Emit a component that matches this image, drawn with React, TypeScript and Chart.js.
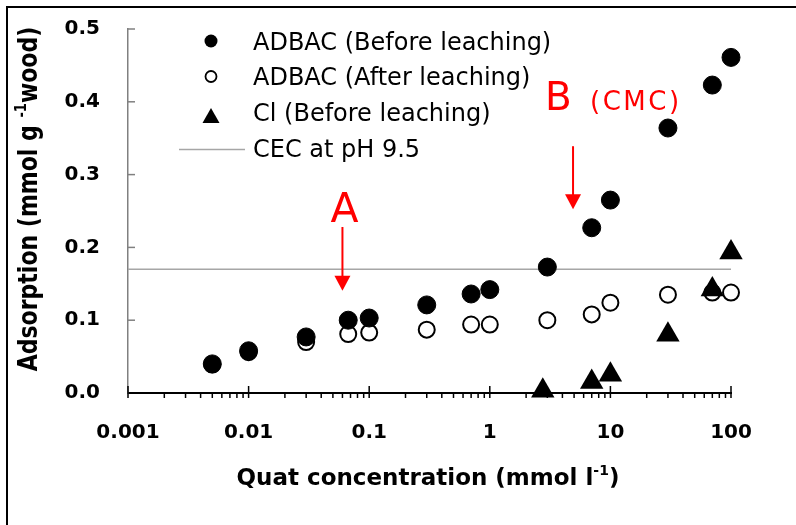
import React, { useEffect, useRef } from 'react';
import { Chart, registerables } from 'chart.js';

Chart.register(...registerables);

// ---------------- Data ----------------
const quatConc = [0.005, 0.01, 0.03, 0.067, 0.1, 0.3, 0.7, 1, 3, 7, 10, 30, 70, 100];
const adbacBefore = [0.04, 0.058, 0.077, 0.1, 0.103, 0.121, 0.136, 0.142, 0.173, 0.227, 0.265, 0.364, 0.423, 0.461];
const adbacAfter = [0.039, 0.056, 0.07, 0.081, 0.083, 0.087, 0.094, 0.094, 0.1, 0.108, 0.124, 0.135, 0.138, 0.138];
const clConc = [2.75, 7, 10, 30, 70, 100];
const clBefore = [0.003, 0.015, 0.025, 0.08, 0.142, 0.193];
const cecValue = 0.17;

const xMin = 0.001;
const xMax = 100;
const xDecades = [0.001, 0.01, 0.1, 1, 10, 100];
const xTickLabels = ['0.001', '0.01', '0.1', '1', '10', '100'];
const minorSteps = [2, 3, 4, 5, 6, 7, 8, 9];
const yMin = 0;
const yMax = 0.5;
const yStep = 0.1;
const yTickValues = [0, 0.1, 0.2, 0.3, 0.4, 0.5];

const legendLabels = ['ADBAC (Before leaching)', 'ADBAC (After leaching)', 'Cl (Before leaching)', 'CEC at pH 9.5'];
const xTitleParts = [{ t: 'Quat concentration (mmol l' }, { t: '-1', sup: true }, { t: ')' }];
const yTitleParts = [{ t: 'Adsorption (mmol g ' }, { t: '-1', sup: true }, { t: 'wood)' }];

// annotations: arrow x position and y range in data units
const annotA = { label: 'A', x: 0.06, yTop: 0.228, yTip: 0.1405 };
const annotB = { label: 'B', note: '(CMC)', x: 4.9, yTop: 0.339, yTip: 0.2523 };

const xTickValues: number[] = [];
xDecades.forEach((d, i) => {
  xTickValues.push(d);
  if (i < xDecades.length - 1) minorSteps.forEach((m) => xTickValues.push(+(d * m).toPrecision(6)));
});

const FONT = '"DejaVu Sans", "Liberation Sans", Arial, sans-serif';
const RED = '#ff0000';

function drawParts(ctx: CanvasRenderingContext2D, parts: any[], x: number, y: number, size: number, center: boolean) {
  const supSize = Math.round(size * 0.6);
  const widths = parts.map((p) => {
    ctx.font = `bold ${p.sup ? supSize : size}px ${FONT}`;
    return ctx.measureText(p.t).width;
  });
  const total = widths.reduce((a, b) => a + b, 0);
  let cx = center ? x - total / 2 : x;
  ctx.textAlign = 'left';
  ctx.textBaseline = 'alphabetic';
  parts.forEach((p, i) => {
    ctx.font = `bold ${p.sup ? supSize : size}px ${FONT}`;
    ctx.fillText(p.t, cx, p.sup ? y - size * 0.42 : y);
    cx += widths[i];
  });
}

function drawArrow(ctx: CanvasRenderingContext2D, x: number, y1: number, y2: number) {
  ctx.strokeStyle = RED;
  ctx.fillStyle = RED;
  ctx.lineWidth = 2;
  ctx.beginPath();
  ctx.moveTo(x, y1);
  ctx.lineTo(x, y2 - 13);
  ctx.stroke();
  ctx.beginPath();
  ctx.moveTo(x - 8, y2 - 15);
  ctx.lineTo(x + 8, y2 - 15);
  ctx.lineTo(x, y2);
  ctx.closePath();
  ctx.fill();
}

const decorPlugin = {
  id: 'decor',
  beforeDraw(chart: any) {
    const ctx = chart.ctx as CanvasRenderingContext2D;
    ctx.save();
    ctx.fillStyle = '#ffffff';
    ctx.fillRect(0, 0, chart.width, chart.height);
    ctx.strokeStyle = '#000';
    ctx.lineWidth = 2;
    ctx.strokeRect(7, 7, chart.width + 40, chart.height + 40);
    ctx.restore();
  },
  beforeDatasetsDraw(chart: any) {
    const ctx = chart.ctx as CanvasRenderingContext2D;
    const { x, y } = chart.scales;
    const area = chart.chartArea;
    ctx.save();
    ctx.strokeStyle = '#000';
    ctx.lineWidth = 1.5;
    xTickValues.forEach((v) => {
      const px = x.getPixelForValue(v);
      const major = xDecades.some((d) => Math.abs(d - v) / d < 1e-6);
      ctx.beginPath();
      ctx.moveTo(px, major ? area.bottom - 7 : area.bottom);
      ctx.lineTo(px, area.bottom + 5);
      ctx.stroke();
    });
    ctx.strokeStyle = '#808080';
    yTickValues.forEach((v) => {
      if (v === 0) return;
      const py = y.getPixelForValue(v);
      ctx.beginPath();
      ctx.moveTo(area.left, py);
      ctx.lineTo(area.left + 7, py);
      ctx.stroke();
    });
    ctx.restore();
  },
  afterDraw(chart: any) {
    const ctx = chart.ctx as CanvasRenderingContext2D;
    const { x, y } = chart.scales;
    const area = chart.chartArea;
    ctx.save();

    // ----- legend -----
    const mx = 211;
    const tx = 253;
    const base = [49.5, 85, 120.8, 156.5];
    ctx.fillStyle = '#000';
    ctx.strokeStyle = '#000';
    ctx.beginPath();
    ctx.arc(mx, 41, 6.5, 0, Math.PI * 2);
    ctx.fill();
    ctx.lineWidth = 1.8;
    ctx.beginPath();
    ctx.arc(mx, 76.5, 5.5, 0, Math.PI * 2);
    ctx.stroke();
    ctx.beginPath();
    ctx.moveTo(mx, 108);
    ctx.lineTo(mx + 8.5, 123);
    ctx.lineTo(mx - 8.5, 123);
    ctx.closePath();
    ctx.fill();
    ctx.strokeStyle = '#a6a6a6';
    ctx.lineWidth = 1.5;
    ctx.beginPath();
    ctx.moveTo(179, 149.5);
    ctx.lineTo(245, 149.5);
    ctx.stroke();
    ctx.fillStyle = '#000';
    ctx.font = `24px ${FONT}`;
    ctx.textAlign = 'left';
    ctx.textBaseline = 'alphabetic';
    legendLabels.forEach((l, i) => ctx.fillText(l, tx, base[i]));

    // ----- axis titles -----
    ctx.fillStyle = '#000';
    drawParts(ctx, xTitleParts, (area.left + area.right) / 2 - 1.5, area.bottom + 92, 23, true);
    ctx.save();
    ctx.translate(37, 199);
    ctx.rotate(-Math.PI / 2);
    ctx.scale(1, 1.2);
    drawParts(ctx, yTitleParts, 0, 0, 22, true);
    ctx.restore();

    // ----- annotations -----
    const ax = x.getPixelForValue(annotA.x);
    const aTop = y.getPixelForValue(annotA.yTop);
    drawArrow(ctx, ax, aTop, y.getPixelForValue(annotA.yTip));
    ctx.fillStyle = RED;
    ctx.font = `41px ${FONT}`;
    ctx.textAlign = 'center';
    ctx.textBaseline = 'alphabetic';
    ctx.fillText(annotA.label, ax + 2, aTop - 5.5);

    const bx = x.getPixelForValue(annotB.x);
    const bTop = y.getPixelForValue(annotB.yTop);
    drawArrow(ctx, bx, bTop, y.getPixelForValue(annotB.yTip));
    ctx.fillStyle = RED;
    ctx.font = `39px ${FONT}`;
    ctx.textAlign = 'left';
    ctx.fillText(annotB.label, bx - 28, bTop - 36);
    ctx.font = `26px ${FONT}`;
    (ctx as any).letterSpacing = '2.5px';
    ctx.fillText(annotB.note, bx + 17, bTop - 36);
    (ctx as any).letterSpacing = '0px';

    ctx.restore();
  },
};

export default function App() {
  const ref = useRef<HTMLCanvasElement | null>(null);

  useEffect(() => {
    if (!ref.current) return;
    const chart = new Chart(ref.current, {
      type: 'scatter',
      data: {
        datasets: [
          {
            label: legendLabels[2],
            data: clConc.map((c, i) => ({ x: c, y: clBefore[i] })),
            pointStyle: 'triangle',
            pointRadius: 13.5,
            backgroundColor: '#000',
            borderColor: '#000',
            borderWidth: 0,
            clip: false,
            order: 0,
          } as any,
          {
            label: legendLabels[0],
            data: quatConc.map((c, i) => ({ x: c, y: adbacBefore[i] })),
            pointStyle: 'circle',
            pointRadius: 9,
            backgroundColor: '#000',
            borderColor: '#000',
            borderWidth: 1,
            clip: false,
            order: 1,
          } as any,
          {
            label: legendLabels[1],
            data: quatConc.map((c, i) => ({ x: c, y: adbacAfter[i] })),
            pointStyle: 'circle',
            pointRadius: 8,
            backgroundColor: '#fff',
            borderColor: '#000',
            borderWidth: 2,
            clip: false,
            order: 2,
          } as any,
          {
            type: 'line',
            label: legendLabels[3],
            data: [
              { x: xMin, y: cecValue },
              { x: xMax, y: cecValue },
            ],
            borderColor: '#a6a6a6',
            borderWidth: 1.5,
            pointRadius: 0,
            fill: false,
            clip: false,
            order: 3,
          } as any,
        ],
      },
      options: {
        responsive: false,
        animation: false,
        events: [],
        layout: { padding: { top: 29, right: 65, left: 0, bottom: 0 } },
        plugins: {
          legend: { display: false },
          tooltip: { enabled: false },
          title: { display: false },
        },
        scales: {
          x: {
            type: 'logarithmic',
            min: xMin,
            max: xMax,
            afterBuildTicks: (scale: any) => {
              scale.ticks = xTickValues.map((v) => ({ value: v }));
            },
            afterFit: (scale: any) => {
              scale.height = 132;
              scale.paddingLeft = 0;
              scale.paddingRight = 0;
            },
            grid: { display: false, drawTicks: false },
            border: { display: true, color: '#000', width: 2 },
            ticks: {
              autoSkip: false,
              maxRotation: 0,
              minRotation: 0,
              padding: 28,
              color: '#000',
              font: { family: FONT, size: 20, weight: 'bold' },
              callback: (value: any) => {
                const i = xDecades.findIndex((d) => Math.abs(d - Number(value)) / d < 1e-6);
                return i >= 0 ? xTickLabels[i] : '';
              },
            },
            title: { display: false },
          } as any,
          y: {
            type: 'linear',
            min: yMin,
            max: yMax,
            afterFit: (scale: any) => {
              scale.width = 128;
              scale.paddingTop = 0;
              scale.paddingBottom = 0;
            },
            grid: { display: false, drawTicks: false },
            border: { display: true, color: '#808080', width: 1.5 },
            ticks: {
              stepSize: yStep,
              padding: 28,
              color: '#000',
              font: { family: FONT, size: 20, weight: 'bold' },
              callback: (value: any) => Number(value).toFixed(1),
            },
            title: { display: false },
          } as any,
        },
      },
      plugins: [decorPlugin],
    });
    return () => chart.destroy();
  }, []);

  return (
    <div style={{ position: 'absolute', left: 0, top: 0, width: 796, height: 525 }}>
      <canvas ref={ref} width={796} height={525} style={{ display: 'block' }} />
    </div>
  );
}
